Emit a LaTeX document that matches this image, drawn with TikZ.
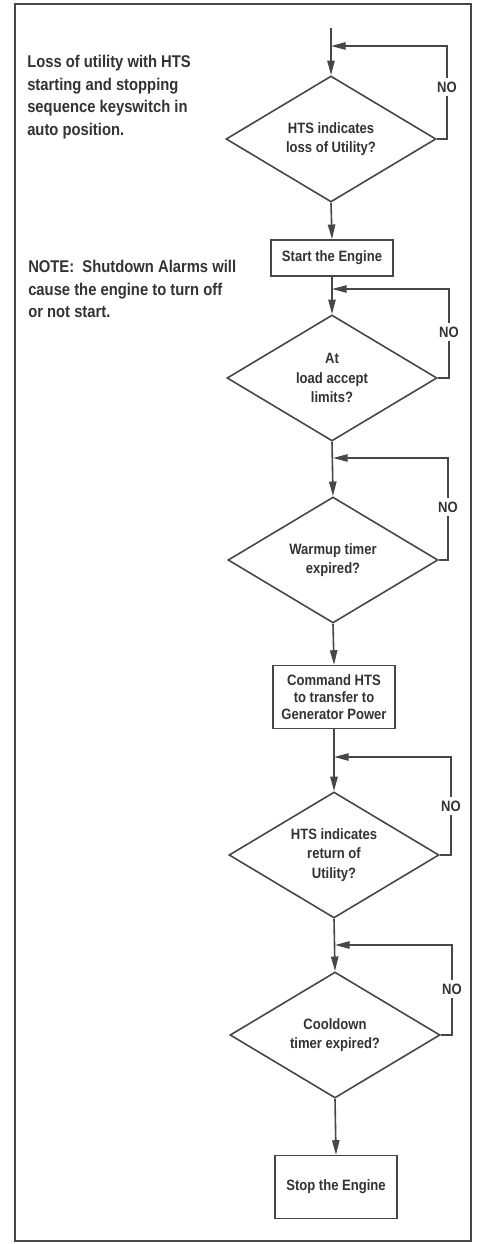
\documentclass[tikz,border=0pt]{standalone}
\usepackage{fontspec}
\setmainfont{Liberation Sans}[FakeStretch=0.87]
\usetikzlibrary{shapes.geometric,arrows.meta}
\definecolor{ink}{HTML}{333333}
\definecolor{wire}{HTML}{474747}
\begin{document}
\begin{tikzpicture}[x=0.75pt,y=-0.75pt,
  every node/.style={font=\bfseries, text=ink},
  dia/.style={diamond, draw=wire, line width=1.2pt, minimum width=157.5pt, minimum height=94.5pt, inner sep=0pt, aspect=1.67, align=center, font=\bfseries\fontsize{11.25}{14.6}\selectfont},
  stepbox/.style={rectangle, draw=wire, line width=1.2pt, minimum width=91.5pt, inner sep=0pt, align=center, font=\bfseries\fontsize{11.25}{12.6}\selectfont},
  flow/.style={draw=wire, line width=1.2pt},
  tip/.style={-{Triangle[length=11pt,width=5.5pt]}},
  nolab/.style={fill=white, inner xsep=1pt, inner ysep=3pt, font=\bfseries\fontsize{11.25}{12}\selectfont},
  note/.style={anchor=north west, inner sep=0pt, align=left, font=\bfseries\fontsize{12.75}{16.9}\selectfont}
]
\useasboundingbox (0,0) rectangle (482,1244);
\fill[white] (0,0) rectangle (482,1244);
\draw[draw=wire, line width=1.5pt] (15,4) rectangle (471,1241);

% notes
\node[note] (n1) at (27,55) {Loss of utility with HTS\\starting and stopping\\sequence keyswitch in\\auto position.};
\node[note] (n2) at (28,260) {NOTE:\ \ Shutdown Alarms will\\cause the engine to turn off\\or not start.};

% main chain
\coordinate (s0) at (331,28);
\coordinate (j1) at (331,46);
\node[dia] (d1) at (331,139) {HTS indicates\\loss of Utility?};
\node[stepbox, minimum height=27pt] (b1) at (332,258) {Start the Engine};
\coordinate (j2) at (332,289);
\node[dia] (d2) at (332,378) {At\\load accept\\limits?};
\coordinate (j3) at (333,458);
\node[dia] (d3) at (333,560) {Warmup timer\\expired?};
\node[stepbox, minimum height=47pt] (b2) at (334,697) {Command HTS\\to transfer to\\Generator Power};
\coordinate (j4) at (334,757);
\node[dia] (d4) at (334,855) {HTS indicates\\return of\\Utility?};
\coordinate (j5) at (335,945);
\node[dia] (d5) at (335,1035) {Cooldown\\timer expired?};
\node[stepbox, minimum height=47pt] (b3) at (336,1187) {Stop the Engine};

% loop corners
\coordinate (r1) at (447,46);
\coordinate (r2) at (449,289);
\coordinate (r3) at (448,458);
\coordinate (r4) at (451,757);
\coordinate (r5) at (452,945);

% vertical flow
\draw[flow,tip] (s0) -- (d1.north);
\draw[flow,tip] (d1.south) -- (b1.north);
\draw[flow,tip] (b1.south) -- (d2.north);
\draw[flow,tip] (d2.south) -- (d3.north);
\draw[flow,tip] (d3.south) -- (b2.north);
\draw[flow,tip] (b2.south) -- (d4.north);
\draw[flow,tip] (d4.south) -- (d5.north);
\draw[flow,tip] (d5.south) -- (b3.north);

% NO loops
\draw[flow,tip] (d1.east) -| (r1) -- (j1);
\draw[flow,tip] (d2.east) -| (r2) -- (j2);
\draw[flow,tip] (d3.east) -| (r3) -- (j3);
\draw[flow,tip] (d4.east) -| (r4) -- (j4);
\draw[flow,tip] (d5.east) -| (r5) -- (j5);

\node[nolab] (no1) at (447,87) {NO};
\node[nolab] (no2) at (449,332) {NO};
\node[nolab] (no3) at (448,507) {NO};
\node[nolab] (no4) at (451,806) {NO};
\node[nolab] (no5) at (452,989) {NO};
\end{tikzpicture}
\end{document}
